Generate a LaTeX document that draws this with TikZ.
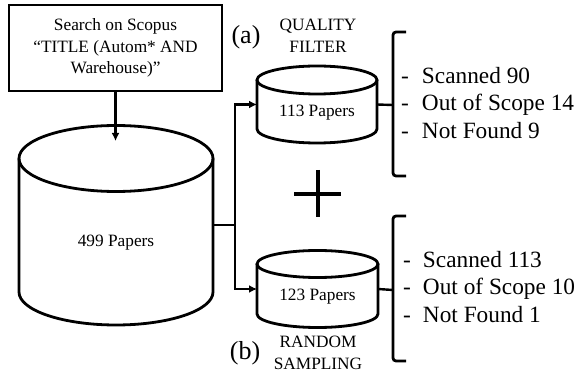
\documentclass[tikz,border=0pt]{standalone}
\usepackage{fontspec}
\setmainfont{Liberation Serif}
\usetikzlibrary{arrows.meta,positioning}

\begin{document}
\begin{tikzpicture}
  [x=1pt, y=-1pt, every node/.style={inner sep=0pt, outer sep=0pt}]
  \tikzset{edge/.style = {line width=2.4pt, -{Latex[length=8pt,width=8pt]}},
           dbline/.style = {line width=2.8pt},
           brk/.style = {line width=2.8pt, rounded corners=3pt},
           small/.style = {font=\fontsize{17.3}{21.5}\selectfont, align=center},
           big/.style = {font=\fontsize{23.3}{27.5}\selectfont, align=left}}
  \useasboundingbox (0,0) rectangle (576,374);

  % search box and full set
  \node[draw, line width=2.8pt, minimum width=213pt, minimum height=86pt, small] (query) at (115.5,48)
       {Search on Scopus\\``TITLE (Autom* AND\\Warehouse)''};
  \node[minimum width=194pt, minimum height=133.5pt] (all) at (116,225.25) {};
  \node[small] (allt) at (116,243) {499 Papers};

  % the two samples
  \node[minimum width=120pt, minimum height=49pt] (qf) at (317,104.5) {};
  \node[small] (qft) at (317,113) {113 Papers};
  \node[minimum width=121pt, minimum height=50pt] (rs) at (317.5,289) {};
  \node[small] (rst) at (317.5,297) {123 Papers};

  % cylinders round the three sets
  \foreach \n/\rx/\ry in {all/97/33, qf/60/14, rs/60.5/13.5} {
    \draw[dbline] (\n.north west) -- (\n.south west)
       arc[start angle=180, end angle=360, x radius=\rx pt, y radius=\ry pt] -- (\n.north east);
    \draw[dbline] (\n.north) ellipse[x radius=\rx pt, y radius=\ry pt];
  }
  \draw[edge] (query.south) -- (query.south |- 0,141);

  \node[font=\fontsize{26}{30}\selectfont] (a) at (246,37) {(a)};
  \node[small] (qfl) at (318,36) {QUALITY\\FILTER};
  \node[font=\fontsize{26}{30}\selectfont] (b) at (245,353) {(b)};
  \node[small] (rsl) at (318,353) {RANDOM\\SAMPLING};

  \draw[line width=2.4pt] (all.east) -- ++(22,0) coordinate (fork);
  \foreach \to in {qf,rs}
    \draw[edge] (fork) |- (\to.west);

  % plus sign
  \coordinate (plus) at (318,194);
  \draw[line width=4.5pt] (plus) ++(0,-24) -- ++(0,47);
  \draw[line width=4.5pt] (plus) ++(-24,0) -- ++(47,0);

  % brackets with counts
  \coordinate (qfb) at (393,105);
  \coordinate (rsb) at (393,290);
  \draw[brk] (406,32) -- (393,32) -- (393,176) -- (406,176);
  \draw[brk] (406,216) -- (393,216) -- (393,361) -- (406,361);
  \draw[line width=2.4pt] (qf.east) -- (qfb);
  \draw[line width=2.4pt] (rs.east) -- (rsb);

  \node[big, anchor=west] (qfc) at (401,103)
       {\makebox[21pt][l]{-}Scanned 90\\\makebox[21pt][l]{-}Out of Scope 14\\\makebox[21pt][l]{-}Not Found 9};
  \node[big, anchor=west] (rsc) at (403,287)
       {\makebox[20pt][l]{-}Scanned 113\\\makebox[20pt][l]{-}Out of Scope 10\\\makebox[20pt][l]{-}Not Found 1};
\end{tikzpicture}
\end{document}
